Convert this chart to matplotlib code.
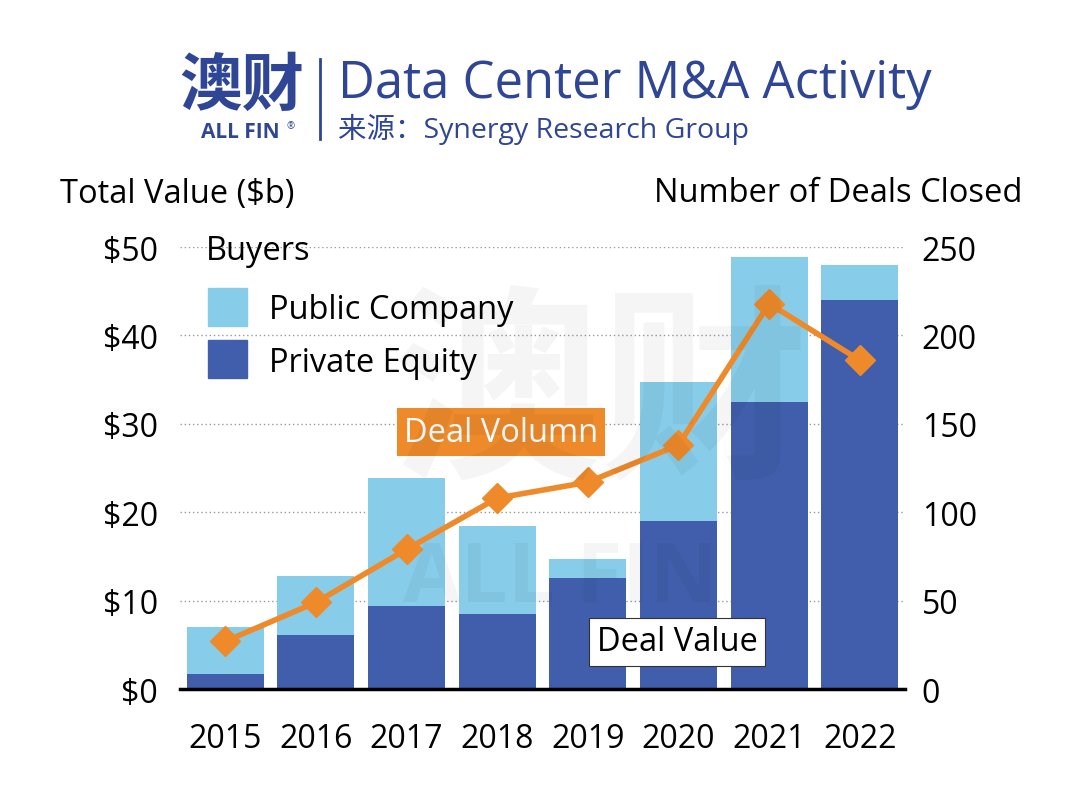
import matplotlib
matplotlib.use("Agg")
import matplotlib.pyplot as plt
import numpy as np

plt.rcParams['font.family'] = ['Open Sans', 'Noto Sans CJK SC', 'DejaVu Sans']

years = ['2015', '2016', '2017', '2018', '2019', '2020', '2021', '2022']
total_value = [7.0, 12.8, 23.9, 18.4, 14.7, 34.7, 48.9, 48.0]
private_equity = [1.7, 6.1, 9.4, 8.5, 12.6, 19.0, 32.5, 44.0]
public_company = [t - p for t, p in zip(total_value, private_equity)]
deals = [27, 49, 79, 108, 117, 138, 218, 186]
left_ticks = [0, 10, 20, 30, 40, 50]
right_ticks = [0, 50, 100, 150, 200, 250]

LIGHT = '#87cdea'
DARK = '#405eab'
ORANGE = '#ee8a2a'
NAVY = '#2f4596'

fig = plt.figure(figsize=(10.8, 8.03), dpi=100)
ax = fig.add_axes([0.1667, 0.1407, 0.6713, 0.5504])
x = np.arange(len(years))

ax.bar(x, private_equity, width=0.85, color=DARK, zorder=2)
ax.bar(x, public_company, width=0.85, bottom=private_equity, color=LIGHT, zorder=2)
ax.set_xlim(-0.5, 7.5)
ax.set_ylim(0, 50)
ax.set_yticks(left_ticks)
ax.set_yticklabels([f'${v}' for v in left_ticks], fontsize=23)
ax.set_xticks(x)
ax.set_xticklabels(years, fontsize=23)
ax.tick_params(length=0)
ax.tick_params(axis='x', pad=24)
ax.tick_params(axis='y', pad=16)
ax.grid(axis='y', linestyle=(0, (1, 2)), color='#999999', linewidth=1, zorder=0)
for s in ['left', 'right', 'top']:
    ax.spines[s].set_visible(False)
ax.spines['bottom'].set_linewidth(2.5)
ax.spines['bottom'].set_zorder(5)

ax2 = ax.twinx()
ax2.plot(x, deals, color=ORANGE, linewidth=4, marker='D', markersize=15, zorder=4)
ax2.set_ylim(0, 250)
ax2.set_yticks(right_ticks)
ax2.set_yticklabels([str(v) for v in right_ticks], fontsize=23)
ax2.tick_params(length=0, pad=12)
for s in ['left', 'right', 'top', 'bottom']:
    ax2.spines[s].set_visible(False)

# axis titles
fig.text(60 / 1080, 1 - 194 / 803, 'Total Value ($b)', fontsize=23.5, ha='left', va='center')
fig.text(1022 / 1080, 1 - 194 / 803, 'Number of Deals Closed', fontsize=23.5, ha='right', va='center')

# legend
fig.text(206 / 1080, 1 - 252 / 803, 'Buyers', fontsize=23.5, ha='left', va='center')
fig.patches.append(plt.Rectangle((208 / 1080, 1 - 327 / 803), 39 / 1080, 38 / 803,
                                 transform=fig.transFigure, color=LIGHT, zorder=3))
fig.patches.append(plt.Rectangle((208 / 1080, 1 - 379 / 803), 39 / 1080, 38 / 803,
                                 transform=fig.transFigure, color=DARK, zorder=3))
fig.text(269 / 1080, 1 - 311 / 803, 'Public Company', fontsize=23.5, ha='left', va='center')
fig.text(269 / 1080, 1 - 363 / 803, 'Private Equity', fontsize=23.5, ha='left', va='center')

# callouts
fig.text(501 / 1080, 1 - 433 / 803, 'Deal Volumn', fontsize=23.5, color='white', ha='center', va='center',
         bbox=dict(boxstyle='square,pad=0.22', facecolor=ORANGE, edgecolor='none'), zorder=6)
fig.text(677 / 1080, 1 - 643 / 803, 'Deal Value', fontsize=23.5, color='black', ha='center', va='center',
         bbox=dict(boxstyle='square,pad=0.22', facecolor='white', edgecolor='#333333', linewidth=0.8),
         zorder=6)

# header
fig.text(242 / 1080, 1 - 86 / 803, '澳财', fontsize=45, fontweight='bold', color=NAVY,
         ha='center', va='center', family=['Noto Sans CJK SC'])
fig.text(240 / 1080, 1 - 133 / 803, 'ALL FIN', fontsize=15, fontweight='bold', color=NAVY,
         ha='center', va='center')
fig.text(291 / 1080, 1 - 127 / 803, '®', fontsize=7, color=NAVY, ha='center', va='center')
fig.add_artist(plt.Line2D([320 / 1080, 320 / 1080], [1 - 60 / 803, 1 - 140 / 803],
                          transform=fig.transFigure, color=NAVY, linewidth=2))
fig.text(338 / 1080, 1 - 84 / 803, 'Data Center M&A Activity', fontsize=36.5, color=NAVY,
         ha='left', va='center')
fig.text(338 / 1080, 1 - 129 / 803, '来源：Synergy Research Group', fontsize=20.5, color=NAVY,
         ha='left', va='center')

# watermark
fig.text(600 / 1080, 1 - 400 / 803, '澳财', fontsize=150, fontweight='bold', color='black', alpha=0.04,
         ha='center', va='center', family=['Noto Sans CJK SC'], zorder=7)
fig.text(560 / 1080, 1 - 580 / 803, 'ALL FIN', fontsize=60, fontweight='bold', color='black', alpha=0.04,
         ha='center', va='center', zorder=7)

fig.savefig('out.png', dpi=100)
